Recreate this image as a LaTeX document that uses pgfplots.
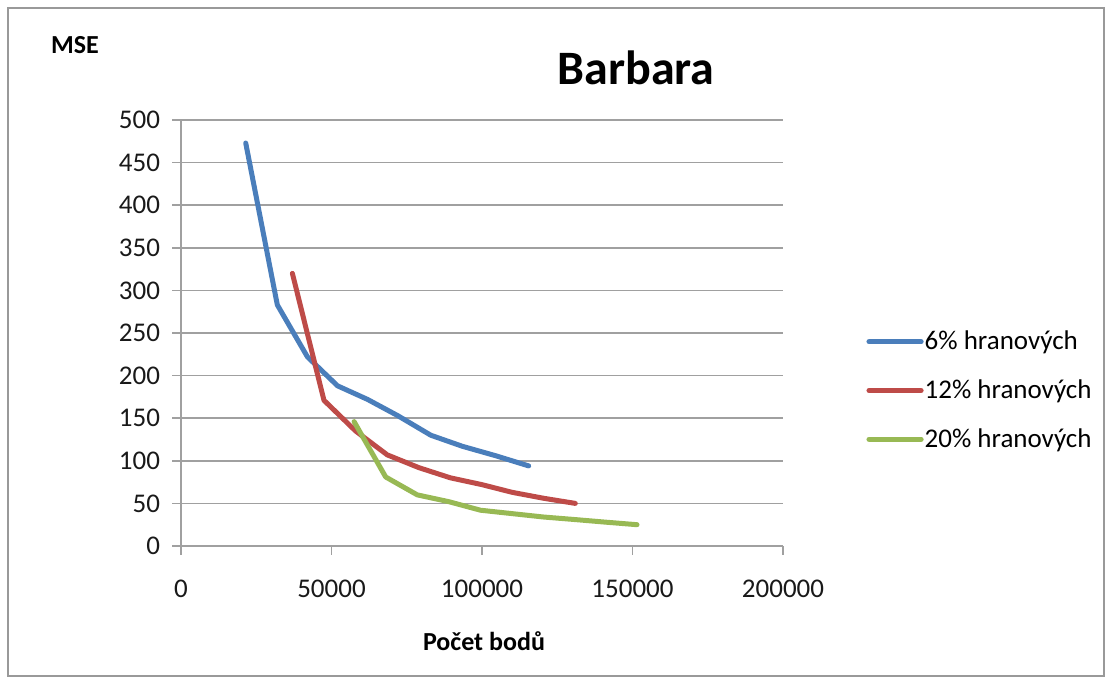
\documentclass[border=0pt]{standalone}
\usepackage{pgfplots}
\pgfplotsset{compat=1.18}
\usepackage{fontspec}
\setmainfont{Carlito}
\definecolor{sblue}{HTML}{4A7EBB}
\definecolor{sred}{HTML}{BE4B48}
\definecolor{sgreen}{HTML}{98B954}
\definecolor{gridc}{HTML}{A0A0A0}
\begin{document}
\begin{tikzpicture}[x=1pt,y=1pt]
\path (0,0) rectangle (556,342);
\draw[gray!80, line width=0.8pt] (4,4) rectangle (552,338);
\begin{axis}[
  at={(90.5pt,69pt)}, anchor=south west,
  scale only axis, width=301pt, height=213pt,
  xmin=0, xmax=200000, ymin=0, ymax=500,
  xtick={0,50000,100000,150000,200000},
  xticklabels={0,50000,100000,150000,200000},
  ytick={0,50,100,150,200,250,300,350,400,450,500},
  yticklabels={0,50,100,150,200,250,300,350,400,450,500},
  axis x line=bottom, axis y line=left,
  axis line style={gridc, line width=0.8pt, -},
  ymajorgrids, grid style={gridc, line width=0.8pt},
  tick style={gridc, line width=0.8pt},
  xtick align=outside, ytick align=outside,
  major tick length=4.5pt,
  scaled ticks=false,
  tick label style={font=\fontsize{13.5}{16}\selectfont, text=black!90},
  xticklabel style={yshift=-9pt},
  yticklabel style={xshift=-2.5pt},
  clip=false,
  legend style={draw=none, fill=none, at={(1.128,0.365)}, anchor=west,
    font=\fontsize{13.5}{16}\selectfont, row sep=9.5pt,
    nodes={inner xsep=0.5pt},
    /tikz/every even column/.append style={column sep=1pt}},
  legend cell align=left,
  legend image code/.code={\draw[#1, line width=2.6pt] (0pt,0pt) -- (26pt,0pt);},
]
\addplot[sblue, line width=2.5pt, line join=round, line cap=round] coordinates {
(21500,473) (32000,283) (42000,222) (52000,188) (62000,172) (72000,153) (83000,130) (93500,117) (104500,106) (115500,94)};
\addlegendentry{6\% hranových}
\addplot[sred, line width=2.5pt, line join=round, line cap=round] coordinates {
(37000,320) (47500,171) (58000,135) (68500,107) (79000,92) (89500,80) (100000,72) (110000,63) (120500,56) (131000,50)};
\addlegendentry{12\% hranových}
\addplot[sgreen, line width=2.5pt, line join=round, line cap=round] coordinates {
(57500,146) (68000,81) (78500,60) (89000,52) (99500,42) (110000,38) (120500,34) (131000,31) (141000,28) (151500,25)};
\addlegendentry{20\% hranových}
\end{axis}
\node[font=\bfseries\fontsize{13}{15}\selectfont] at (37.5,319.5) {MSE};
\node[font=\bfseries\fontsize{13}{15}\selectfont] at (242,21.5) {Počet bodů};
\node[font=\bfseries\fontsize{24}{28}\selectfont] at (318,308) {Barbara};
\end{tikzpicture}
\end{document}
